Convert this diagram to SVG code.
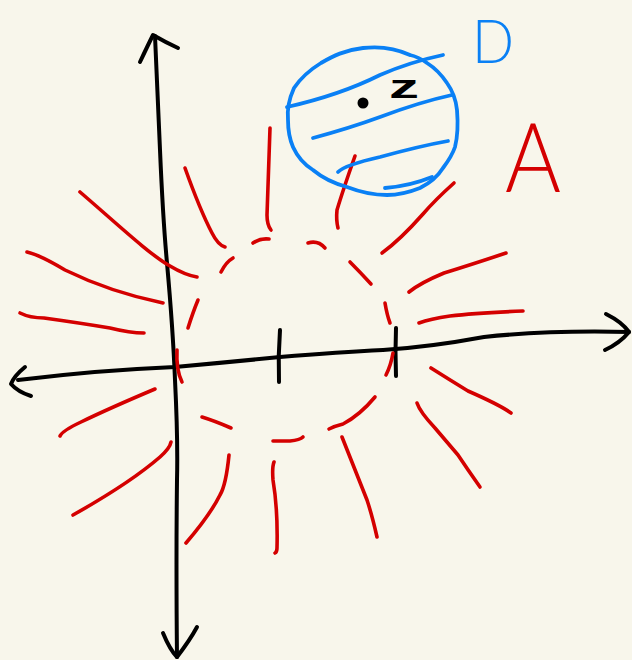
<svg xmlns="http://www.w3.org/2000/svg" width="632" height="660" viewBox="0 0 632 660">
<style>
.k{fill:none;stroke:#000;stroke-width:4;stroke-linecap:round;stroke-linejoin:round}
.r{fill:none;stroke:#d40000;stroke-width:3.6;stroke-linecap:round;stroke-linejoin:round}
.b{fill:none;stroke:#0a80f5;stroke-width:3.8;stroke-linecap:round;stroke-linejoin:round}
.lbl{font-family:Lato,"Liberation Sans",sans-serif;font-weight:300}
</style>
<rect width="632" height="660" fill="#f8f6eb"/>
<g id="axes">
<path class="k" d="M155,36 Q158,100 160,150 Q163,220 167,263 Q173,330 175,380 Q178,440 177,480 Q176,560 177,657"/>
<path class="k" d="M140,62 Q148,45 153,35 Q165,42 178,48"/>
<path class="k" d="M163,633 Q170,650 177,657 Q190,640 197,627"/>
<path class="k" d="M18,380 Q100,370 175,367 Q230,362 280,357 Q340,352 383,350 Q430,347 484,337 Q550,330 629,332"/>
<path class="k" d="M25,367 Q14,376 11,384 Q18,392 31,396"/>
<path class="k" d="M606,314 Q622,322 629,332 Q620,343 605,350"/>
<path class="k" d="M280,330 Q278,356 279,382"/>
<path class="k" d="M396,328 Q395,352 396,376"/>
</g>
<g id="rays">
<path class="r" d="M80,192 C115,222 150,255 170,266 Q185,275 197,277"/>
<path class="r" d="M27,252 Q40,255 65,270 Q110,292 163,303"/>
<path class="r" d="M20,313 Q30,318 44,318 Q80,323 110,328 Q130,333 144,333"/>
<path class="r" d="M185,168 Q200,210 212,233 Q218,245 225,247"/>
<path class="r" d="M270,128 L267,215 Q267,225 271,230"/>
<path class="r" d="M355,156 Q343,190 337,210 Q336,220 338,228"/>
<path class="r" d="M454,183 Q435,200 423,214 Q400,240 382,253"/>
<path class="r" d="M506,253 Q470,265 444,273 Q420,283 409,292"/>
<path class="r" d="M523,311 Q475,313 450,316 Q430,319 419,323"/>
<path class="r" d="M155,389 Q110,408 81,422 Q62,431 60,436"/>
<path class="r" d="M171,442 Q170,448 160,457 Q130,483 73,515"/>
<path class="r" d="M229,455 Q226,485 220,495 Q210,515 186,543"/>
<path class="r" d="M274,462 Q272,467 273,480 Q278,510 277,548 Q277,552 275,553"/>
<path class="r" d="M342,437 Q355,470 367,500 Q372,515 377,537"/>
<path class="r" d="M417,403 Q420,412 435,428 Q452,448 458,455 Q468,470 480,487"/>
<path class="r" d="M431,368 Q450,380 468,391 Q500,405 511,413"/>
</g>
<g id="dashed-circle">
<path class="r" d="M253,243 Q260,238 269,239"/>
<path class="r" d="M308,243 Q318,240 325,248"/>
<path class="r" d="M221,272 Q226,262 233,258"/>
<path class="r" d="M350,262 Q360,272 371,284"/>
<path class="r" d="M198,300 Q193,312 188,328"/>
<path class="r" d="M385,303 Q387,315 390,323"/>
<path class="r" d="M177,350 Q176,370 182,382"/>
<path class="r" d="M393,353 Q391,365 386,375"/>
<path class="r" d="M202,417 Q215,421 231,428"/>
<path class="r" d="M273,441 L290,441 Q300,440 303,437"/>
<path class="r" d="M329,429 Q335,426 343,424 Q360,415 375,397"/>
</g>
<g id="blue-circle">
<path class="b" d="M410,55 C395,48 380,46 363,48 C345,50 333,56 321,63 C308,71 300,79 294,88 C289,99 287,110 288,120 C288,130 290,140 293,147 C298,158 305,165 313,170 C325,180 336,184 347,187 C360,192 373,195 387,195 C400,195 410,192 420,188 C430,183 438,176 443,168 C449,160 453,153 455,147 C458,135 458,122 457,110 C456,100 452,90 447,83 C441,74 435,68 427,63 C420,58 415,56 410,55"/>
<path class="b" d="M287,107 Q340,95 380,75 Q410,62 443,55"/>
<path class="b" d="M313,138 Q350,128 380,117 Q420,102 452,95"/>
<path class="b" d="M338,172 Q345,165 380,157 Q420,146 448,141"/>
<path class="b" d="M385,188 Q410,186 432,177"/>
<circle cx="363" cy="103" r="5.5" fill="#000"/>
<text x="389" y="98" font-family="Liberation Sans, sans-serif" font-weight="bold" font-size="34" textLength="30" lengthAdjust="spacingAndGlyphs" fill="#000">z</text>
</g>
<g id="label-D">
<text class="lbl" x="472" y="63" font-size="62" textLength="42" lengthAdjust="spacingAndGlyphs" fill="#0a80f5">D</text>
</g>
<g id="label-A">
<text class="lbl" x="505" y="192" font-size="96" textLength="56" lengthAdjust="spacingAndGlyphs" fill="#d40000">A</text>
</g>
</svg>
